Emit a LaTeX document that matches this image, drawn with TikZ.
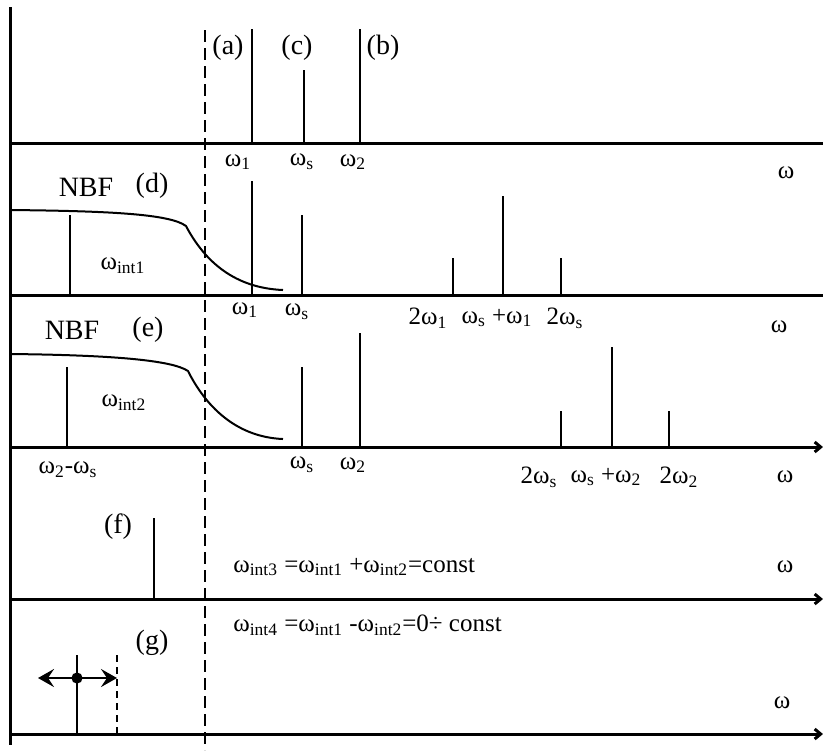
\documentclass[tikz,border=0pt]{standalone}
\usepackage{fontspec}
\setmainfont{Liberation Serif}
\usetikzlibrary{arrows.meta, calc}
\definecolor{specInk}{HTML}{000000}
\newcommand{\om}[1]{ω\textsubscript{#1}}
\newcommand{\specrow}[2]{%
  \foreach \sx/\stop in {#2}
    \draw[spike] (\sx,#1) -- (\sx,\stop);
}

\begin{document}
\begin{tikzpicture}[x=0.5pt, y=-0.5pt, draw=specInk, text=specInk,
    axis/.style={line width=1.5pt},
    axisarrow/.style={axis, -{Straight Barb[length=3pt, width=5pt]}},
    spike/.style={line width=1pt},
    filt/.style={line width=1pt},
    tag/.style={inner sep=0pt, font=\fontsize{14}{16}\selectfont},
    freq/.style={inner sep=0pt, font=\fontsize{12.5}{14}\selectfont},
    formula/.style={inner sep=0pt, anchor=west, font=\fontsize{12.5}{14}\selectfont}]
    \useasboundingbox (0,0) rectangle (823,752);
    % axes
    \draw[axis] (10,7) -- (10,745);
    \draw[axis] (10,143) -- (823,143);
    \draw[axis] (10,295) -- (823,295);
    \draw[axisarrow] (10,447) -- (823,447);
    \draw[axisarrow] (10,599) -- (823,599);
    \draw[axisarrow] (10,734) -- (823,734);
    \draw[line width=1pt, dash pattern=on 6pt off 3pt] (205,30) -- (205,750);
    % (a) (b) (c)
    \specrow{143}{252/29, 304/70, 360/29}
    \node[tag] (tagA) at (228,48) {(a)};
    \node[tag] (tagC) at (297,48) {(c)};
    \node[tag] (tagB) at (383,48) {(b)};
    \node[freq] (topW1) at (238,162) {\om{1}};
    \node[freq] (topWs) at (302,162) {\om{s}};
    \node[freq] (topW2) at (353,162) {\om{2}};
    \node[freq] (omD) at (786,173) {ω};
    % (d)
    \draw[filt] (10,210) .. controls (110,211) and (170,214) .. (186,226)
                .. controls (205,262) and (235,288) .. (283,290);
    \specrow{295}{70/215, 252/181, 302/215, 453/258, 503/196, 561/258}
    \node[tag] (nbfD) at (86,187) {NBF};
    \node[tag] (tagD) at (152,186) {(d)};
    \node[freq] (intD) at (123,266) {\om{int1}};
    \node[freq] (dW1) at (245,310) {\om{1}};
    \node[freq] (dWs) at (297,312) {\om{s}};
    \node[freq] (d2W1) at (428,318) {2\om{1}};
    \node[freq] (dSum) at (497,318) {\om{s} +\om{1}};
    \node[freq] (d2Ws) at (565,318) {2\om{s}};
    \node[freq] (omE) at (779,327) {ω};
    % (e)
    \draw[filt] (10,354) .. controls (110,355) and (172,360) .. (188,371)
                .. controls (205,405) and (235,437) .. (283,439);
    \specrow{447}{67/367, 302/367, 360/333, 561/411, 612/347, 669/411}
    \node[tag] (nbfE) at (72,330) {NBF};
    \node[tag] (tagE) at (148,330) {(e)};
    \node[freq] (intE) at (124,403) {\om{int2}};
    \node[freq] (eDiff) at (68,470) {\om{2}-\om{s}};
    \node[freq] (eWs) at (302,465) {\om{s}};
    \node[freq] (eW2) at (353,465) {\om{2}};
    \node[freq] (e2Ws) at (539,477) {2\om{s}};
    \node[freq] (eSum) at (606,477) {\om{s} +\om{2}};
    \node[freq] (e2W2) at (679,477) {2\om{2}};
    \node[freq] (omF1) at (785,477) {ω};
    % (f)
    \specrow{599}{154/518}
    \node[tag] (tagF) at (118,527) {(f)};
    \node[formula] (sumF) at (233,567) {\om{int3} =\om{int1} +\om{int2}=const};
    \node[freq] (omF) at (785,567) {ω};
    % (g)
    \specrow{734}{77/655}
    \draw[line width=1pt, dash pattern=on 3.5pt off 2.5pt] (117,655) -- (117,734);
    \coordinate (gDot) at (77,678);
    \coordinate (gLeft) at (38,678);
    \coordinate (gRight) at (117,678);
    \draw[line width=1.3pt, {Stealth[length=8pt, width=9pt, inset=3pt]}-{Stealth[length=8pt, width=9pt, inset=3pt]}] (gLeft) -- (gRight);
    \fill[specInk] (gDot) circle[radius=2.8pt];
    \node[tag] (tagG) at (152,643) {(g)};
    \node[formula] (diffG) at (233,625) {\om{int4} =\om{int1} -\om{int2}=0÷ const};
    \node[freq] (omG) at (782,703) {ω};
\end{tikzpicture}
\end{document}
